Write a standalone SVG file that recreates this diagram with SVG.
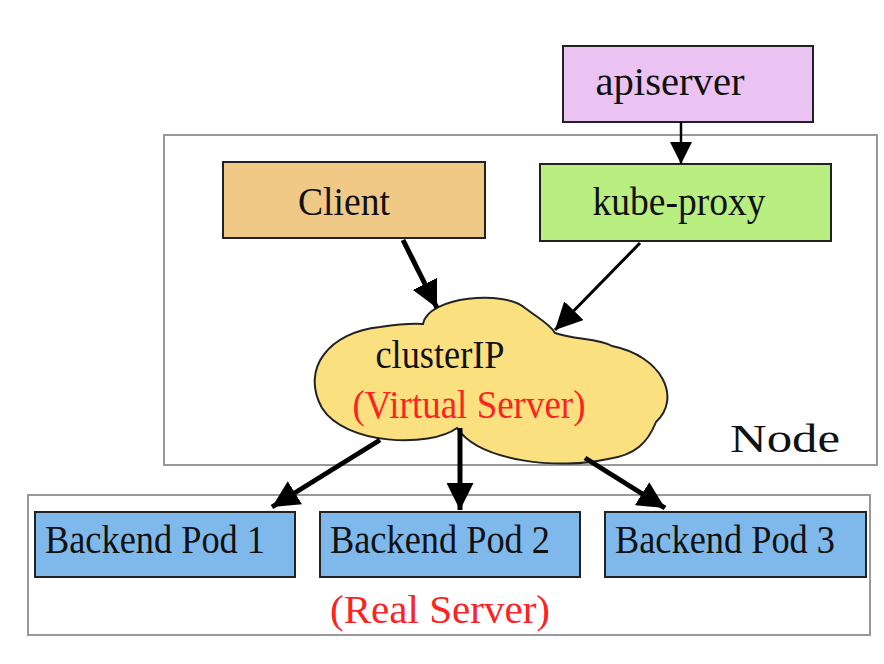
<svg xmlns="http://www.w3.org/2000/svg" width="884" height="664" viewBox="0 0 884 664">
<defs>
<style>
.box{stroke:#222;stroke-width:2}
.frame{fill:#fff;stroke:#999;stroke-width:2}
.t{font-family:"Liberation Serif","Times New Roman",serif;font-size:40px;fill:#111;text-anchor:middle}
.red{fill:#ff2222}
.c{stroke:#000;fill:none}
</style>
<marker id="ah" viewBox="0 0 10 10" refX="10" refY="5" markerUnits="userSpaceOnUse" markerWidth="27" markerHeight="27" orient="auto">
<path d="M0,0 L10,5 L0,10 Z" fill="#000"/>
</marker>
<marker id="ahs" viewBox="0 0 10 10" refX="10" refY="5" markerUnits="userSpaceOnUse" markerWidth="22" markerHeight="22" orient="auto">
<path d="M0,0 L10,5 L0,10 Z" fill="#000"/>
</marker>
</defs>
<rect width="884" height="664" fill="#fff"/>
<g id="node-frame">
<rect class="frame" x="164" y="135" width="713" height="330"/>
<text class="t" x="785" y="452" font-size="48" textLength="110" lengthAdjust="spacingAndGlyphs">Node</text>
</g>
<g id="real-frame">
<rect class="frame" x="28" y="495" width="842" height="140"/>
<text class="t red" x="440" y="623" textLength="220" lengthAdjust="spacingAndGlyphs">(Real Server)</text>
</g>
<g id="apiserver">
<rect class="box" x="563" y="46" width="250" height="76" fill="#ebc3f3"/>
<text class="t" x="670" y="95" textLength="149" lengthAdjust="spacingAndGlyphs">apiserver</text>
</g>
<g id="client">
<rect class="box" x="223" y="162" width="262" height="76" fill="#f0c987"/>
<text class="t" x="344" y="215" textLength="92" lengthAdjust="spacingAndGlyphs">Client</text>
</g>
<g id="kube-proxy">
<rect class="box" x="540" y="164" width="291" height="77" fill="#b9ef81"/>
<text class="t" x="679" y="215" textLength="173" lengthAdjust="spacingAndGlyphs">kube-proxy</text>
</g>
<g id="clusterip">
<path d="M457,428 C430,448 345,445 322,408 C300,368 330,332 380,327 C400,324 412,323 423,324 C428,296 505,290 525,308 C538,318 550,324 555,333 C575,340 598,338 612,346 C662,356 682,398 656,422 C648,442 636,455 608,459 C560,470 480,462 457,428 Z" fill="#fbe07f" stroke="#222" stroke-width="2"/>
<text class="t" x="440" y="368" textLength="129" lengthAdjust="spacingAndGlyphs">clusterIP</text>
<text class="t red" x="469" y="418" textLength="233" lengthAdjust="spacingAndGlyphs">(Virtual Server)</text>
</g>
<g id="pod1">
<rect class="box" x="35" y="512" width="260" height="65" fill="#7fb9ec"/>
<text class="t" x="155" y="553" textLength="220" lengthAdjust="spacingAndGlyphs">Backend Pod 1</text>
</g>
<g id="pod2">
<rect class="box" x="320" y="512" width="260" height="65" fill="#7fb9ec"/>
<text class="t" x="440" y="553" textLength="220" lengthAdjust="spacingAndGlyphs">Backend Pod 2</text>
</g>
<g id="pod3">
<rect class="box" x="605" y="512" width="261" height="65" fill="#7fb9ec"/>
<text class="t" x="725" y="553" textLength="220" lengthAdjust="spacingAndGlyphs">Backend Pod 3</text>
</g>
<g id="connectors">
<path class="c" d="M681,122 L681,164" stroke-width="2.5" marker-end="url(#ahs)"/>
<path class="c" d="M403,240 L437,308" stroke-width="5" marker-end="url(#ah)"/>
<path class="c" d="M640,243 L555,330" stroke-width="3" marker-end="url(#ah)"/>
<path class="c" d="M380,440 L272,507" stroke-width="5" marker-end="url(#ah)"/>
<path class="c" d="M460,428 L460,510" stroke-width="5" marker-end="url(#ah)"/>
<path class="c" d="M585,458 L665,508" stroke-width="5" marker-end="url(#ah)"/>
</g>
</svg>
